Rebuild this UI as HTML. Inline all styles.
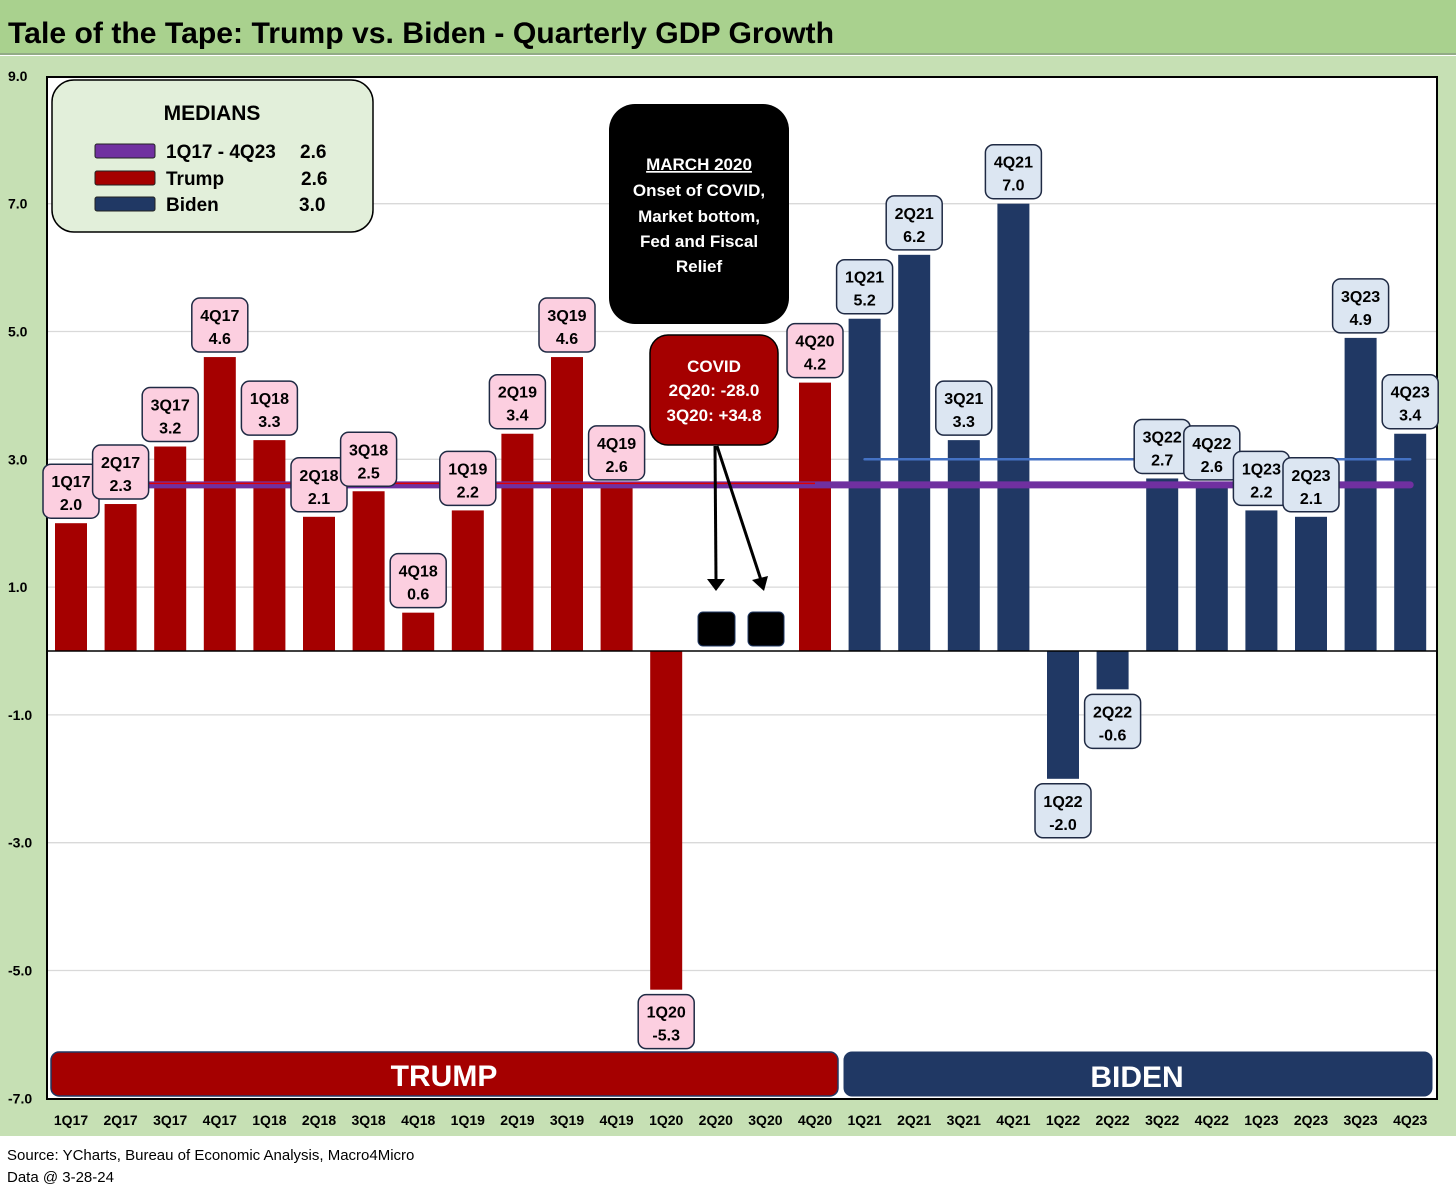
<!DOCTYPE html>
<html><head><meta charset="utf-8"><style>
html,body{margin:0;padding:0;background:#fff}
body{width:1456px;height:1190px;overflow:hidden;font-family:"Liberation Sans",sans-serif}
</style></head><body>
<svg id="chart" width="1456" height="1190" xmlns="http://www.w3.org/2000/svg" font-family="Liberation Sans, sans-serif">
<rect x="0" y="0" width="1456" height="53" fill="#a9d18e"/>
<line x1="0" y1="54" x2="1456" y2="54" stroke="#6f8f5f" stroke-width="1.5"/>
<text x="8" y="43" font-size="30" font-weight="bold" fill="#000" textLength="826" lengthAdjust="spacingAndGlyphs">Tale of the Tape: Trump vs. Biden - Quarterly  GDP Growth</text>
<rect x="0" y="56" width="1456" height="1080" fill="#c6e0b4"/>
<rect x="47" y="77" width="1390" height="1022" fill="#fff" stroke="#000" stroke-width="2"/>
<g id="grid"></g>
<g id="bars"></g>
<g id="medians"></g>
<g id="labels"></g>
<g id="xlabels"></g>
<g>
<rect x="52" y="80" width="321" height="152" rx="22" fill="#e2efda" stroke="#000" stroke-width="1.5"/>
<text x="212" y="120" font-size="21" font-weight="bold" text-anchor="middle">MEDIANS</text>
<rect x="95" y="144" width="60" height="14" rx="2" fill="#7030a0" stroke="#222"/>
<text x="166" y="158" font-size="19" font-weight="bold">1Q17 - 4Q23</text><text x="300" y="158" font-size="19" font-weight="bold">2.6</text>
<rect x="95" y="171" width="60" height="14" rx="2" fill="#a50000" stroke="#222"/>
<text x="166" y="185" font-size="19" font-weight="bold">Trump</text><text x="301" y="185" font-size="19" font-weight="bold">2.6</text>
<rect x="95" y="197" width="60" height="14" rx="2" fill="#203864" stroke="#222"/>
<text x="166" y="211" font-size="19" font-weight="bold">Biden</text><text x="299" y="211" font-size="19" font-weight="bold">3.0</text>
</g>
<g>
<rect x="609" y="104" width="180" height="220" rx="26" fill="#000"/>
<g fill="#fff" font-size="17" font-weight="bold" text-anchor="middle">
<text x="699" y="170" text-decoration="underline">MARCH 2020</text>
<text x="699" y="196">Onset of COVID,</text>
<text x="699" y="222">Market bottom,</text>
<text x="699" y="247">Fed and Fiscal</text>
<text x="699" y="272">Relief</text></g>
</g>
<g>
<rect x="650" y="335" width="128" height="110" rx="18" fill="#a50000" stroke="#000" stroke-width="1.5"/>
<g fill="#fff" font-size="17" font-weight="bold" text-anchor="middle">
<text x="714" y="372">COVID</text><text x="714" y="396">2Q20: -28.0</text><text x="714" y="421">3Q20: +34.8</text></g>
<line x1="715" y1="446" x2="716" y2="580" stroke="#000" stroke-width="3"/>
<polygon points="707,579 725,579 716,591" fill="#000"/>
<line x1="717" y1="446" x2="761" y2="580" stroke="#000" stroke-width="3"/>
<polygon points="752,580 768,576 764,591" fill="#000"/>
<rect x="698" y="612" width="37" height="34" rx="5" fill="#000" stroke="#203864"/>
<rect x="748" y="612" width="36" height="34" rx="5" fill="#000" stroke="#203864"/>
</g>
<rect x="51" y="1052" width="787" height="44" rx="8" fill="#a50000" stroke="#203864" stroke-width="1.5"/>
<text x="444" y="1086" font-size="30" font-weight="bold" fill="#fff" text-anchor="middle">TRUMP</text>
<rect x="844" y="1052" width="588" height="44" rx="8" fill="#203864" stroke="#203864"/>
<text x="1137" y="1087" font-size="30" font-weight="bold" fill="#fff" text-anchor="middle">BIDEN</text>
<text x="7" y="1160" font-size="15">Source: YCharts, Bureau of Economic Analysis, Macro4Micro</text>
<text x="7" y="1182" font-size="15">Data @ 3-28-24</text>
</svg>
<script>
const categories=["1Q17","2Q17","3Q17","4Q17","1Q18","2Q18","3Q18","4Q18","1Q19","2Q19","3Q19","4Q19","1Q20","2Q20","3Q20","4Q20","1Q21","2Q21","3Q21","4Q21","1Q22","2Q22","3Q22","4Q22","1Q23","2Q23","3Q23","4Q23"];
const gdpValues=[2.0,2.3,3.2,4.6,3.3,2.1,2.5,0.6,2.2,3.4,4.6,2.6,-5.3,null,null,4.2,5.2,6.2,3.3,7.0,-2.0,-0.6,2.7,2.6,2.2,2.1,4.9,3.4];
const yTicks=[9,7,5,3,1,-1,-3,-5,-7];
const medianAll=2.6, medianTrump=2.6, medianBiden=3.0;
const bidenStart=16;
const NS="http://www.w3.org/2000/svg";
function y(v){return 651-v*63.9;}
function x(i){return 71+i*49.6;}
function mk(tag,attrs,parent){const e=document.createElementNS(NS,tag);for(const k in attrs)e.setAttribute(k,attrs[k]);parent.appendChild(e);return e;}
const grid=document.getElementById('grid');
yTicks.forEach(t=>{
  if(t<9&&t>-7){const l=mk('line',{x1:48,x2:1436,y1:y(t),y2:y(t),stroke:'#d9d9d9','stroke-width':1.3},grid);
  
  }
  const tx=mk('text',{x:8,y:y(t)+5,'font-size':14,'font-weight':'bold'},grid);
  
  
  tx.textContent=t.toFixed(1);
});
const bars=document.getElementById('bars');
gdpValues.forEach((v,i)=>{
  if(v===null)return;
  const r=mk('rect',{x:x(i)-16,width:32,y:Math.min(y(v),y(0)),height:Math.abs(y(v)-y(0)),fill:i<bidenStart?'#a50000':'#203864'},bars);
  
  
});
const zl=mk('line',{x1:48,x2:1436,y1:y(0),y2:y(0),stroke:'#000','stroke-width':1.5},bars);


const med=document.getElementById('medians');
const m1=mk('line',{x1:x(0)-14,x2:x(27),y1:y(medianAll),y2:y(medianAll),stroke:'#7030a0','stroke-width':7,'stroke-linecap':'round'},med);


const m2=mk('line',{x1:x(0)-14,x2:x(15),y1:y(medianTrump)-1.5,y2:y(medianTrump)-1.5,stroke:'#e00000','stroke-width':1.5},med);


const m3=mk('line',{x1:x(bidenStart),x2:x(27),y1:y(medianBiden),y2:y(medianBiden),stroke:'#4472c4','stroke-width':2.5,'stroke-linecap':'round'},med);


const lab=document.getElementById('labels');
gdpValues.forEach((v,i)=>{
  if(v===null)return;
  const g=mk('g',{},lab);
  
  
  const top=v>=0?y(v)-59:y(v)+5;
  mk('rect',{x:x(i)-28,y:top,width:56,height:54,rx:8,fill:i<bidenStart?'#fccfe0':'#dce6f2',stroke:'#1f2a44','stroke-width':1.5},g);
  const t1=mk('text',{x:x(i),y:top+23,'font-size':16,'font-weight':'bold','text-anchor':'middle'},g);t1.textContent=categories[i];
  const t2=mk('text',{x:x(i),y:top+46,'font-size':16,'font-weight':'bold','text-anchor':'middle'},g);t2.textContent=v.toFixed(1);
});
const xl=document.getElementById('xlabels');
categories.forEach((c,i)=>{
  const t=mk('text',{x:x(i),y:1125,'font-size':14,'font-weight':'bold','text-anchor':'middle'},xl);
  
  
  t.textContent=c;
});
</script>
</body></html>
